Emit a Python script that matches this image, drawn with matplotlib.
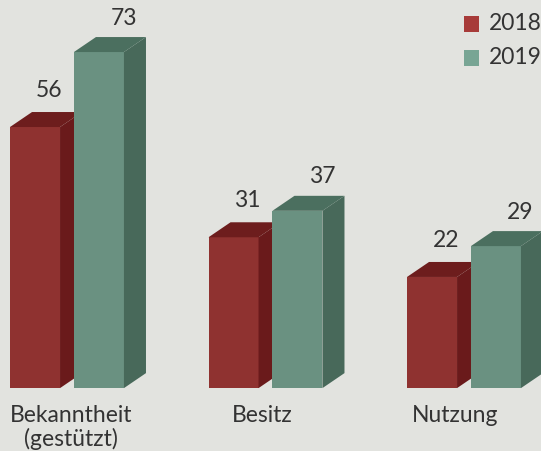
import matplotlib.pyplot as plt
from matplotlib.patches import Polygon

categories = ['Bekanntheit\n(gestützt)', 'Besitz', 'Nutzung']
years = ['2018', '2019']
vals_2018 = [56, 31, 22]
vals_2019 = [73, 37, 29]

BG = '#e2e3df'
TXT = '#333333'
# front, top, side
red = ('#8f3230', '#6d1d1d', '#6a1a1b')
green = ('#6a9181', '#4b6f5f', '#48695a')
legend_cols = ['#a73b39', '#78a594']

plt.rcParams['font.family'] = ['Lato', 'DejaVu Sans']

fig = plt.figure(figsize=(5.41, 4.51), dpi=100, facecolor=BG)
ax = fig.add_axes([0, 0, 1, 1])
ax.set_facecolor(BG)
ax.set_xlim(-0.0504, 2.675)
ax.set_ylim(-17.46, 84.8)
ax.axis('off')

step = 1.0
w = 0.252        # bar width
gap = 0.322      # offset of 2019 bar
ddx = 0.111      # depth x
ddy = 3.4        # depth y
base = -3.2
label_dx = [0.307, 0.27, 0.24]
fs = 16.5


def bar3d(x0, v, cols, z):
    front, top, side = cols
    ax.add_patch(Polygon([(x0, base), (x0 + w, base), (x0 + w, v), (x0, v)],
                         closed=True, fc=front, ec='none', zorder=z))
    ax.add_patch(Polygon([(x0 + w, base), (x0 + w + ddx, base + ddy),
                          (x0 + w + ddx, v + ddy), (x0 + w, v)],
                         closed=True, fc=side, ec='none', zorder=z))
    ax.add_patch(Polygon([(x0, v), (x0 + w, v), (x0 + w + ddx, v + ddy),
                          (x0 + ddx, v + ddy)],
                         closed=True, fc=top, ec='none', zorder=z))


for i, cat in enumerate(categories):
    x = i * step
    bar3d(x, vals_2018[i], red, 2)
    bar3d(x + gap, vals_2019[i], green, 3)
    ax.text(x + 0.196, vals_2018[i] + ddy + 2.5, str(vals_2018[i]),
            ha='center', va='bottom', fontsize=fs, color=TXT, zorder=5)
    ax.text(x + gap + 0.25, vals_2019[i] + ddy + 1.9, str(vals_2019[i]),
            ha='center', va='bottom', fontsize=fs, color=TXT, zorder=5)
    ax.text(x + label_dx[i], -7.0, cat, ha='center', va='top', fontsize=fs,
            color=TXT, linespacing=1.1)

# legend
for j, (yr, c) in enumerate(zip(years, legend_cols)):
    yv = 374 / 4.41 - (24 + 34 * j) / 4.41
    ax.add_patch(Polygon([(2.285, yv - 1.8), (2.365, yv - 1.8),
                          (2.365, yv + 1.8), (2.285, yv + 1.8)],
                         closed=True, fc=c, ec='none'))
    ax.text(2.413, yv, yr, ha='left', va='center', fontsize=fs, color=TXT)

fig.savefig('out.png', dpi=100, facecolor=BG)
